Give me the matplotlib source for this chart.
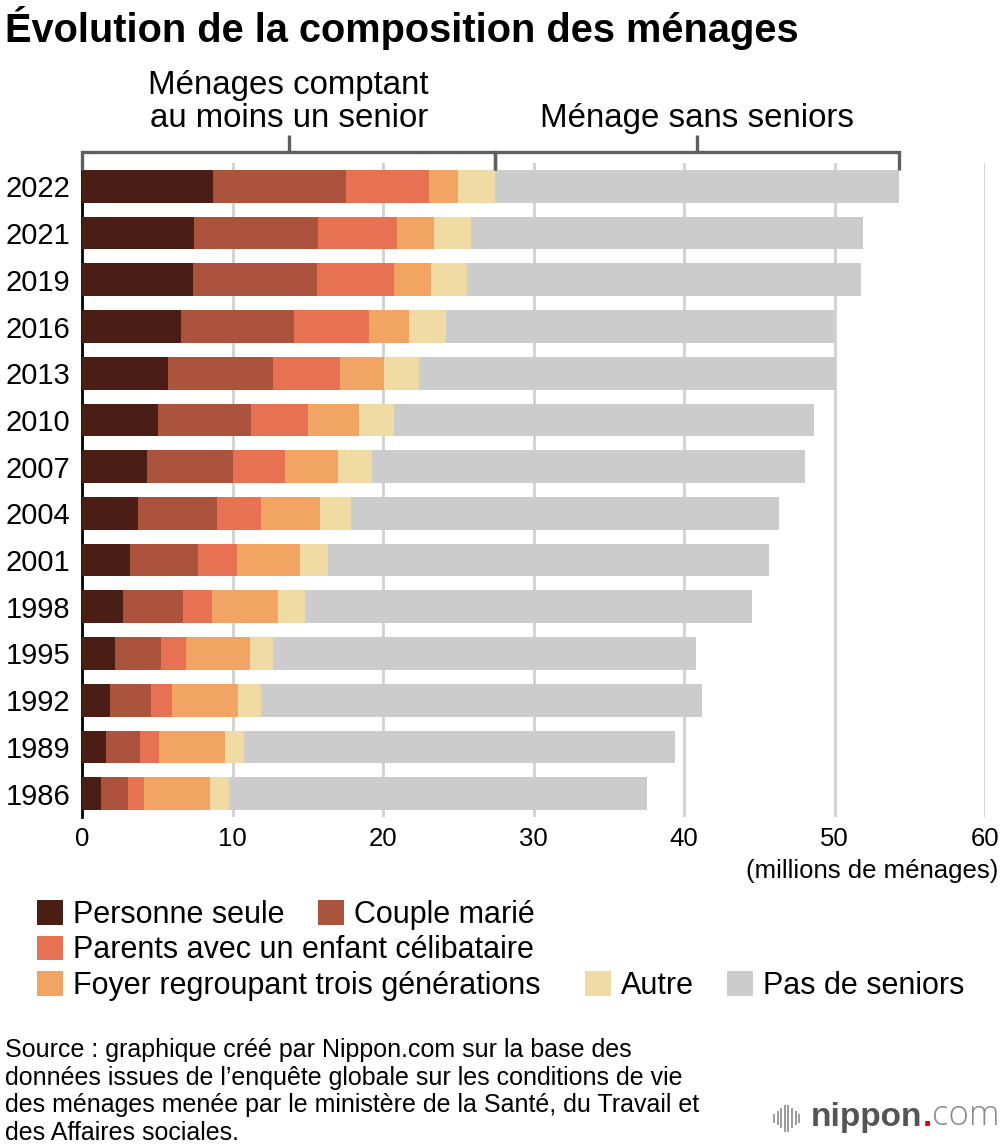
import matplotlib
matplotlib.use('Agg')
import matplotlib.pyplot as plt
from matplotlib.lines import Line2D
import numpy as np

plt.rcParams['font.family'] = ['Liberation Sans', 'DejaVu Sans']

# ---------------- data (millions de ménages) ----------------
years = ['2022', '2021', '2019', '2016', '2013', '2010', '2007',
         '2004', '2001', '1998', '1995', '1992', '1989', '1986']
personne_seule = [8.730, 7.427, 7.369, 6.559, 5.730, 5.018, 4.326,
                  3.730, 3.179, 2.724, 2.199, 1.865, 1.592, 1.281]
couple_marie = [8.821, 8.251, 8.270, 7.526, 6.974, 6.190, 5.732,
                5.252, 4.545, 3.956, 3.075, 2.706, 2.257, 1.782]
parents_enfant = [5.514, 5.284, 5.118, 5.007, 4.442, 3.837, 3.418,
                  2.931, 2.563, 1.973, 1.636, 1.439, 1.260, 1.086]
trois_generations = [1.947, 2.401, 2.404, 2.668, 2.953, 3.348, 3.528,
                     3.919, 4.179, 4.401, 4.232, 4.348, 4.385, 4.375]
autre = [2.463, 2.470, 2.423, 2.405, 2.321, 2.313, 2.260,
         2.031, 1.902, 1.769, 1.553, 1.526, 1.280, 1.245]
pas_de_seniors = [26.835, 26.081, 26.201, 25.780, 27.692, 27.932, 28.759,
                  28.460, 29.296, 29.673, 28.075, 29.326, 28.643, 27.775]

categories = ['Personne seule', 'Couple marié',
              'Parents avec un enfant célibataire',
              'Foyer regroupant trois générations', 'Autre', 'Pas de seniors']
x_ticks = [0, 10, 20, 30, 40, 50, 60]

colors = ['#4b1e15', '#ab533d', '#e77153', '#f2a462', '#f1dba5', '#cccccc']
series = [personne_seule, couple_marie, parents_enfant, trois_generations,
          autre, pas_de_seniors]

# ---------------- figure ----------------
W, H = 1000, 1144
fig = plt.figure(figsize=(W / 100, H / 100), dpi=100)


def fx(px):
    return px / W


def fy(py):
    return 1 - py / H


ax_top, ax_bot = 163, 817
ax = fig.add_axes([fx(82), fy(ax_bot), fx(985) - fx(82), (ax_bot - ax_top) / H])

y = np.arange(len(years))
left = np.zeros(len(years))
containers = []
for vals, col, lab in zip(series, colors, categories):
    c = ax.barh(y, vals, left=left, height=0.70, color=col, label=lab,
                zorder=3, linewidth=0)
    containers.append(c)
    left = left + np.array(vals)

ax.set_xlim(0, 60)
ax.set_ylim(len(years) - 0.5, -0.5)
ax.set_xticks(x_ticks)
ax.set_xticklabels([str(t) for t in x_ticks])
ax.set_yticks(y)
ax.set_yticklabels(years)
ax.tick_params(axis='y', length=0, pad=8.5, labelsize=21)
ax.tick_params(axis='x', length=0, pad=7, labelsize=18.5)
ax.grid(axis='x', color='#d0d0d0', linewidth=2)
ax.set_axisbelow(True)
for s in ['top', 'right', 'bottom']:
    ax.spines[s].set_visible(False)
ax.spines['left'].set_color('black')
ax.spines['left'].set_linewidth(2)
ax.spines['left'].set_bounds(len(years) - 0.5, -0.35)

# ---------------- brackets above 2022 bar ----------------
senior_2022 = sum(s[0] for s in series[:5])
total_2022 = senior_2022 + pas_de_seniors[0]
y_line, y_end, y_tick = -0.73, -0.36, -1.10
br_kw = dict(color='#5f5f5f', linewidth=2.4, clip_on=False,
             solid_joinstyle='miter', solid_capstyle='butt', zorder=5)
for x0, x1 in [(0, senior_2022), (senior_2022, total_2022)]:
    ax.plot([x0, x0, x1, x1], [y_end, y_line, y_line, y_end], **br_kw)
    xm = (x0 + x1) / 2
    ax.plot([xm, xm], [y_line, y_tick], **br_kw)

ax.text(senior_2022 / 2, -1.977, 'Ménages comptant', ha='center',
        va='baseline', fontsize=23.8)
ax.text(senior_2022 / 2, -1.28, 'au moins un senior', ha='center',
        va='baseline', fontsize=23.8)
ax.text((senior_2022 + total_2022) / 2, -1.28, 'Ménage sans seniors',
        ha='center', va='baseline', fontsize=23.8)

# ---------------- titles / labels ----------------
fig.text(fx(5), fy(42), 'Évolution de la composition des ménages',
         fontsize=28.6, fontweight='bold', va='baseline', ha='left')
fig.text(fx(998), fy(878), '(millions de ménages)', ha='right',
         va='baseline', fontsize=18.5)

# ---------------- legend ----------------
leg_pos = [(37, 915), (318, 915), (37, 950.5), (37, 986), (585, 986), (727, 986)]
for c, lab, (px, py) in zip(containers, categories, leg_pos):
    fig.legend([c], [lab], loc='center left',
               bbox_to_anchor=(fx(px), fy(py)), frameon=False, fontsize=22,
               handlelength=0.85, handleheight=0.85, handletextpad=0.33,
               borderpad=0, borderaxespad=0)

# ---------------- source ----------------
source_lines = [
    'Source : graphique créé par Nippon.com sur la base des',
    'données issues de l’enquête globale sur les conditions de vie',
    'des ménages menée par le ministère de la Santé, du Travail et',
    'des Affaires sociales.',
]
for i, line in enumerate(source_lines):
    fig.text(fx(5), fy(1057 + 27.5 * i), line, fontsize=18,
             va='baseline', ha='left')

# ---------------- logo ----------------
t1 = fig.text(fx(811), fy(1126), 'nippon', fontsize=24, fontweight='bold',
              color='#555555', va='baseline', ha='left')
t2 = ax.annotate('.', xy=(1, 0), xycoords=t1, va='bottom', ha='left',
                 fontsize=24, fontweight='bold', color='#e60012',
                 annotation_clip=False)
ax.annotate('com', xy=(1, 0), xycoords=t2, va='bottom', ha='left',
            fontsize=25, color='#8a8a8a', annotation_clip=False,
            family=['Open Sans', 'Liberation Sans'], fontweight='light')
icon_h = [7, 12, 18, 25, 25, 18, 12, 7]
for i, h in enumerate(icon_h):
    xx = fx(774 + 3.6 * i)
    fig.add_artist(Line2D([xx, xx], [fy(1118 + h / 2), fy(1118 - h / 2)],
                          transform=fig.transFigure, color='#9a9a9a',
                          linewidth=1.4))

fig.savefig('out.png', dpi=100)
